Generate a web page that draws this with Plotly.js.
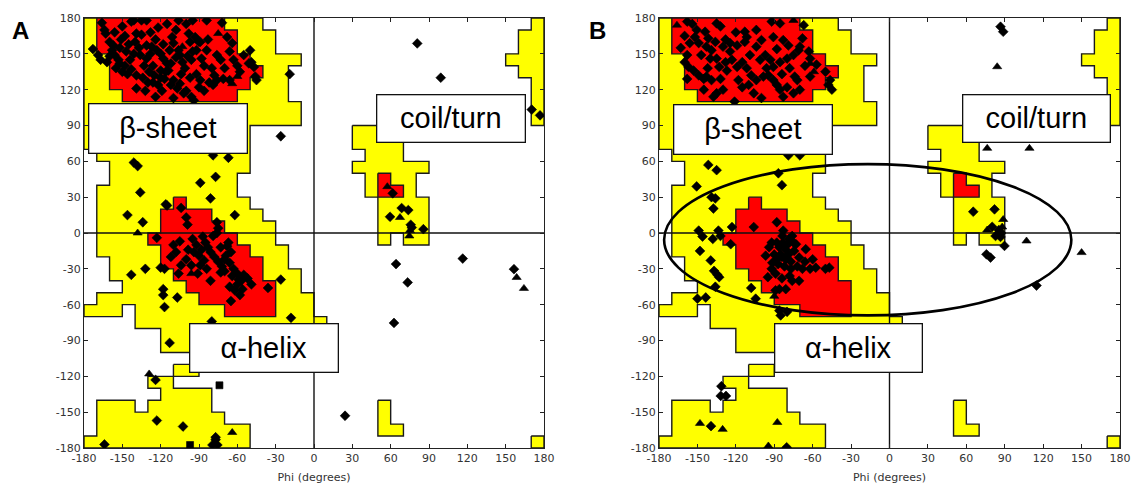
<!DOCTYPE html>
<html><head><meta charset="utf-8">
<script src="https://cdn.plot.ly/plotly-3.0.1.min.js"></script>
<style>body{margin:0;background:#fff}#chart{width:1133px;height:485px}</style>
</head><body><div id="chart"></div>
<script>
// ---- tick values / labels ----
const tickVals = [-180,-150,-120,-90,-60,-30,0,30,60,90,120,150,180];
const tickLabels = ['-180','-150','-120','-90','-60','-30','0','30','60','90','120','150','180'];

// ---- Ramachandran regions (phi, psi vertices on 10-degree grid) ----
const allowedRegions = [
  [[-180,180],[-40,180],[-40,170],[-30,170],[-30,150],[-10,150],[-10,140],[-20,140],[-20,110],[-10,110],[-10,90],[-50,90],[-50,50],[-60,50],[-60,30],[-50,30],[-50,20],[-40,20],[-40,10],[-30,10],[-30,-10],[-20,-10],[-20,-30],[-10,-30],[-10,-50],[0,-50],[0,-70],[10,-70],[10,-90],[-60,-90],[-60,-100],[-120,-100],[-120,-80],[-140,-80],[-140,-60],[-150,-60],[-150,-70],[-180,-70],[-180,-60],[-170,-60],[-170,-50],[-150,-50],[-150,-40],[-160,-40],[-160,-20],[-170,-20],[-170,40],[-160,40],[-160,60],[-170,60],[-170,70],[-180,70],[-180,180]],
  [[-180,-180],[-180,-170],[-170,-170],[-170,-140],[-140,-140],[-140,-150],[-130,-150],[-130,-140],[-120,-140],[-120,-130],[-130,-130],[-130,-120],[-110,-120],[-110,-130],[-80,-130],[-80,-150],[-70,-150],[-70,-160],[-50,-160],[-50,-180],[-180,-180]],
  [[-110,-110],[-90,-110],[-90,-120],[-110,-120],[-110,-110]],
  [[30,90],[70,90],[70,60],[90,60],[90,50],[80,50],[80,30],[90,30],[90,-10],[70,-10],[70,0],[60,0],[60,-10],[50,-10],[50,30],[40,30],[40,50],[30,50],[30,60],[40,60],[40,70],[30,70],[30,90]],
  [[170,180],[180,180],[180,90],[170,90],[170,130],[160,130],[160,140],[150,140],[150,150],[160,150],[160,170],[170,170],[170,180]],
  [[50,-140],[60,-140],[60,-160],[70,-160],[70,-170],[50,-170],[50,-140]],
  [[170,-170],[180,-170],[180,-180],[170,-180],[170,-170]]
];
const coreRegions = [
  [[-170,180],[-70,180],[-70,170],[-60,170],[-60,150],[-50,150],[-50,140],[-40,140],[-40,130],[-50,130],[-50,120],[-60,120],[-60,110],[-150,110],[-150,120],[-160,120],[-160,150],[-170,150],[-170,180]],
  [[-110,30],[-100,30],[-100,20],[-80,20],[-80,10],[-70,10],[-70,0],[-60,0],[-60,-10],[-50,-10],[-50,-20],[-40,-20],[-40,-40],[-30,-40],[-30,-70],[-70,-70],[-70,-60],[-90,-60],[-90,-50],[-100,-50],[-100,-40],[-110,-40],[-110,-30],[-120,-30],[-120,-10],[-130,-10],[-130,0],[-120,0],[-120,20],[-110,20],[-110,30]],
  [[50,50],[60,50],[60,40],[70,40],[70,30],[50,30],[50,50]]
];

// ---- Panel A residues [phi, psi] ----
const A_general = [
 [-173,154],[-169,149],[-167,145],[-164,170],[-163,167],[-160,160],[-157,157],[-158,153],[-156,149],[-153,145],[-152,142],[-148,140],[-151,162],[-143,177],[-141,178],[-135,178],[-131,178],[-139,167],[-135,166],[-131,157],[-127,156],[-123,153],[-120,150],[-118,146],[-115,142],[-114,136],[-120,136],[-126,140],[-131,146],[-136,149],[-141,150],[-139,132],[-139,121],[-126,126],[-122,124],[-117,129],[-110,128],[-105,125],[-100,119],[-96,114],[-94,111],[-102,117],[-107,121],[-111,164],[-110,159],[-113,153],[-105,149],[-103,143],[-101,138],[-96,145],[-92,153],[-89,160],[-93,164],[-98,167],[-84,178],[-83,162],[-90,160],[-84,153],[-76,149],[-73,145],[-68,164],[-64,159],[-66,152],[-63,145],[-66,128],[-71,129],[-76,128],[-79,124],[-89,128],[-86,119],[-50,153],[-49,143],[-47,139],[-46,131],[-45,128],[-51,142],[-19,133],[-26,81],
 [-155,138],[-150,135],[-146,133],[-144,145],[-147,152],[-145,158],[-140,160],[-137,155],[-133,140],[-129,135],[-125,132],[-120,130],[-116,135],[-112,142],[-108,147],[-106,153],[-118,158],[-124,162],[-128,168],[-122,172],[-115,175],[-108,170],[-100,175],[-97,160],[-95,152],[-99,148],[-88,146],[-86,140],[-80,138],[-78,132],[-82,126],[-92,133],[-97,130],[-104,133],[-112,124],[-130,126],[-134,130],[-143,137],[-160,148],[-162,143],[-166,176],[-150,173],[-128,150],[-119,119],[-110,113],[-132,119],[-124,114],[-90,122],[-70,138],[-60,140],[-58,135],[-55,149],[-72,176],[-95,178],[-106,178],[-152,155],[-148,165],[-156,168],
 [-141,59],[-138,56],[-77,47],[-79,65],[-67,63],[-89,42],[-136,34],[-116,24],[-115,23],[-104,21],[-81,29],[-146,15],[-134,9],[-100,13],[-99,7],[-76,9],[-75,4],[-76,0],[-62,15],
 [-123,-4],[-105,-7],[-87,-3],[-79,-2.5],[-108,-16],[-98.5,-14],[-94,-16],[-90,-19],[-86,-23],[-100,-22],[-96,-27],[-89,-27],[-104,-27],[-81,-16],[-73,-12],[-68,-11],[-65,-16],[-69,-19],[-66,-25],[-70,-32],[-73,-33],[-64,-36],[-60,-34],[-57,-40],[-60,-43],[-56,-47],[-49,-43],[-59,-39],[-81,-40],[-91,-34],[-106,-34],[-117,-30],[-120,-29],[-132,-30],[-143,-35],[-118,-47],[-118,-52],[-107,-54],[-117,-62],[-36,-46],[-26,-39],[-65,-57],[-18,-71],[-80,-74],
 [-85,-8],[-83,-12],[-78,-20],[-75,-24],[-72,-28],[-70,-22],[-67,-8],[-92,-10],[-95,-5],[-88,-14],[-63,-30],[-55,-35],[-52,-38],[-62,-48],[-58,-52],[-66,-45],[-84,-30],[-112,-20],[-110,-10],
 [-113,-92],[-124,-123],[-123,-157],[-102.5,-162],[-77,-171],[-77,-173],[-79.5,-177.5],[-75.6,-177.5],[-164,-177],
 [116.4,-21.4],[64.2,-26],[73.3,-41.4],[62.6,-75.3],[156.5,-30.3],[24.3,-153],[80.8,158.7],[99.2,130],[170.4,103.3],[176.9,98.5],[61.6,33.2],[68.6,20.9],[73.8,19.2],[59.5,13.6],[75.7,6.9],[76.5,4.6],[85.6,3.2]
];
const A_glycine = [[-103,156],[-75,167],[-60,131],[-64,125],[-138,0],[-96,-34],[-129,-118],[-64,-167],[57.4,38.8],[67.3,13],[75.1,2],[74.6,-2.5],[158.6,-37.2],[164.3,-46.4]];
const A_proline = [[-74,-127.5],[-97,-177.5]];

// ---- Panel B residues [phi, psi] ----
const B_general = [
 [-158,177],[-150.6,170],[-152,164],[-156,159],[-149,159],[-144,168.5],[-141.5,163],[-143,156],[-139,153],[-136,160],[-140,146],[-135,146],[-158,149],[-160,143],[-157,139],[-158,129],[-153,136],[-149,132],[-145,129],[-143,131],[-139,128],[-132,129],[-127,136],[-123,145],[-119,139],[-115,143],[-111.5,138],[-108,132],[-104,128],[-98.5,131],[-94.6,132],[-90.7,128],[-88,124],[-85.5,120],[-80,122],[-75,117],[-70,120],[-90.7,139],[-85.5,143],[-80,146],[-75,149],[-71,153],[-70,156],[-63,152],[-62,146],[-57,141],[-62,131],[-47.7,124],[-45,120],[-46.4,128],[-135,117],[-145,120],[-137.5,114],[-130,120],[-121,110],[-111.5,164],[-113,160],[-104,156],[-100,161.5],[-90.7,164],[-92,177],[-85.5,175.5],[-83,161.5],[-79,157],[-101,145],[-97,149],[-109,149],[-124.5,159],[-119,157],[-130,156],[-124.5,152],[-132,173],[-135,175.5],[-113,168.5],[-67,174],[-50,135],[-83,114],[-100,113],[-106,117],
 [-163,155],[-160,165],[-154,175],[-147,149],[-142,138],[-133,139],[-128,143],[-118,128],[-115,122],[-110,124],[-96,138],[-93,145],[-88,154],[-84,133],[-78,138],[-74,131],[-66,140],[-68,163],[-72,128],[-120,168],[-128,162],[-104,170],
 [-141.5,57],[-135,52.6],[-150.6,39],[-139,30],[-136,29],[-137.5,20.5],[-86.8,50],[-84,40],[-79,65],[-70,65],[-149,2],[-133.6,2],[-123,5],[-106,5],[-88,9],[-83,2],
 [-146,-3],[-138,-5],[-132,-2.5],[-124,-9.4],[-148,-15],[-139.6,-23],[-137,-31.7],[-134.4,-35],[-133,-37],[-136,-45],[-150,-55],[-143.5,-54],[-108,-46],[-104.5,-55],[-94,-12],[-96.7,-19],[-91.5,-25],[-95,-37],[-89,-34],[-85,-18],[-81,-14],[-83.6,-2.5],[-78.4,-5],[-76,-2.5],[-73,-9.4],[-74.5,-15],[-70.6,-20.5],[-65.4,-13.6],[-60,-22],[-57.6,-29],[-50,-30],[-47,-29],[-81,-22],[-77,-30],[-76,-40],[-70.6,-40],[-81,-47],[-89,-48],[-86,-47],[-85,-69],[-80,-66],[-86,-65],
 [-88,-8],[-86,-12],[-84,-20],[-80,-10],[-79,-18],[-77,-24],[-82,-28],[-90,-18],[-92,-8],[-87,-26],[-72,-28],[-68,-30],[-92,-30],[-78,-36],[-84,-38],[-66,-24],[-62,-30],[-88,-22],[-83,-8],[-75,-8],
 [-131.3,-128.3],[-131.8,-136.4],[-127.7,-136.4],[-139.4,-161.7],[-80.3,-179.4],
 [86.7,172.7],[88.8,168.5],[65.4,17.8],[82,19.8],[80.2,5.2],[85.4,2.5],[87.2,0],[82.8,-2.5],[86.7,-3.3],[89.8,-10.8],[75.7,-17.8],[78.9,-20.6],[114.8,-44]
];
const B_glycine = [[-166,174],[-75,178],[-62,142],[-59,135],[-90,-53],[-148,-159.4],[-130.3,-164.4],[-87.6,-158.6],[-94.6,-178.3],[84.1,139.2],[76.3,70.9],[109.3,70.9],[88.8,11.3],[76.3,2.5],[107,-6.7],[150,-16.4],[84,-1],[88,5]];
const B_proline = [];

// ---- ellipse in panel B (phi/psi extent) ----
const ellipsePhi = [-176, 142];
const ellipsePsi = [-69, 57.7];

// ---------------- build ----------------
function polyXY(polys){
  const x=[],y=[];
  polys.forEach((p,i)=>{ if(i>0){x.push(null);y.push(null);} p.forEach(v=>{x.push(v[0]);y.push(v[1]);}); });
  return {x,y};
}
function panelTraces(xa, ya, gen, gly, pro){
  const al = polyXY(allowedRegions), co = polyXY(coreRegions);
  const t = [];
  t.push({type:'scatter',mode:'lines',x:al.x,y:al.y,fill:'toself',fillcolor:'#ffff00',line:{color:'#1a1a1a',width:1.4},xaxis:xa,yaxis:ya,hoverinfo:'skip'});
  t.push({type:'scatter',mode:'lines',x:co.x,y:co.y,fill:'toself',fillcolor:'#ff0000',line:{color:'#1a1a1a',width:1.4},xaxis:xa,yaxis:ya,hoverinfo:'skip'});
  t.push({type:'scatter',mode:'lines',x:[tickVals[0],tickVals[tickVals.length-1],null,0,0],y:[0,0,null,tickVals[0],tickVals[tickVals.length-1]],line:{color:'#111',width:1.4},xaxis:xa,yaxis:ya,hoverinfo:'skip'});
  const mk = (arr,sym,size)=>({type:'scatter',mode:'markers',x:arr.map(d=>d[0]),y:arr.map(d=>d[1]),marker:{symbol:sym,size:size,color:'#000',line:{width:0.6,color:'#000'}},xaxis:xa,yaxis:ya});
  t.push(mk(gen,'diamond',7.5));
  t.push(mk(gly,'triangle-up',8));
  t.push(mk(pro,'square',7));
  return t;
}
const data = [...panelTraces('x','y',A_general,A_glycine,A_proline), ...panelTraces('x2','y2',B_general,B_glycine,B_proline)];

const W=1133,H=485;
const tickFont = {family:'DejaVu Sans, sans-serif', size:11, color:'#333'};
function ax(domain, anchor, isX){
  const a = {domain:domain, anchor:anchor, range:[-180,180], tickmode:'array', tickvals:tickVals, ticktext:tickLabels,
    ticks:'inside', ticklen:4, tickwidth:1, tickcolor:'#222', showline:true, linecolor:'#222', linewidth:1, mirror:'ticks',
    showgrid:false, zeroline:false, tickfont:tickFont, fixedrange:true, layer:'above traces'};
  if(isX) a.title = {text:'Phi (degrees)', font:{family:'DejaVu Sans, sans-serif', size:11, color:'#333'}, standoff:9};
  return a;
}
const yDom = [37/H, 467/H];
const labelFont = {family:'Liberation Sans, Arial, sans-serif', size:29, color:'#000'};
function box(text, xc, yc, w, h){
  return {text:text, xref:'paper', yref:'paper', x:xc/W, y:1-yc/H, xanchor:'center', yanchor:'middle', showarrow:false,
    bgcolor:'#fff', bordercolor:'#111', borderwidth:1.3, borderpad:0, width:w-2, height:h-2, font:labelFont};
}
const layout = {
  width:W, height:H, margin:{l:0,r:0,t:0,b:0}, paper_bgcolor:'#fff', plot_bgcolor:'#fff', showlegend:false,
  xaxis: ax([84/W,544/W],'y',true), yaxis: ax(yDom,'x',false),
  xaxis2: ax([659/W,1120/W],'y2',true), yaxis2: ax(yDom,'x2',false),
  shapes:[{type:'circle', xref:'x2', yref:'y2', x0:ellipsePhi[0], x1:ellipsePhi[1], y0:ellipsePsi[0], y1:ellipsePsi[1], line:{color:'#000',width:2.6}, layer:'above'}],
  annotations:[
    box('β-sheet',167.5,129,159,50), box('coil/turn',450.5,118,149,48), box('α-helix',263.5,347.5,149,49),
    box('β-sheet',752.5,129.5,159,50), box('coil/turn',1036,118,148,48), box('α-helix',848,347.5,148,49),
    {text:'<b>A</b>', xref:'paper', yref:'paper', x:21/W, y:1-31/H, xanchor:'center', yanchor:'middle', showarrow:false, font:{family:'Liberation Sans, Arial, sans-serif', size:24, color:'#000'}},
    {text:'<b>B</b>', xref:'paper', yref:'paper', x:597/W, y:1-31/H, xanchor:'center', yanchor:'middle', showarrow:false, font:{family:'Liberation Sans, Arial, sans-serif', size:24, color:'#000'}}
  ]
};
Plotly.newPlot('chart', data, layout, {staticPlot:true, displayModeBar:false});
</script></body></html>
